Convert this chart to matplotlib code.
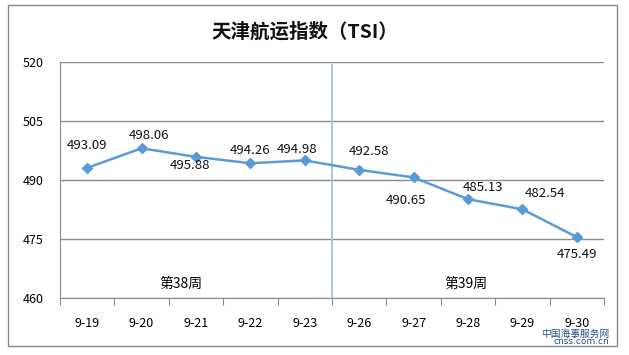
import matplotlib
matplotlib.use("Agg")
import matplotlib.pyplot as plt
from matplotlib.patches import Rectangle

plt.rcParams['font.family'] = ['Noto Sans CJK SC', 'DejaVu Sans']

categories = ["9-19", "9-20", "9-21", "9-22", "9-23", "9-26", "9-27", "9-28", "9-29", "9-30"]
values = [493.09, 498.06, 495.88, 494.26, 494.98, 492.58, 490.65, 485.13, 482.54, 475.49]
label_offsets = [(0, 22), (7, 13), (-6, -9), (0, 13), (-8, 11), (10, 18), (-8, -23), (15, 12), (23, 16), (0, -17)]
week_labels = ["第38周", "第39周"]
yticks = [460, 475, 490, 505, 520]

W, H = 629, 355
fig = plt.figure(figsize=(W / 100, H / 100), dpi=100)
fig.patch.set_facecolor("white")
fig.patches.append(Rectangle((8 / W, 1 - 346 / H), 609 / W, 341 / H, transform=fig.transFigure,
                             fill=False, edgecolor="#888888", linewidth=1.0))

ax = fig.add_axes([60 / W, 1 - 298 / H, 544 / W, 236 / H])
x = list(range(len(categories)))
ax.set_xlim(-0.5, len(categories) - 0.5)
ax.set_ylim(460, 520)
ax.set_yticks(yticks)
ax.set_yticklabels([str(v) for v in yticks], fontsize=9)
ax.yaxis.grid(True, color="#8c8c8c", linewidth=1.0)
ax.set_axisbelow(True)
for s in ["top", "right"]:
    ax.spines[s].set_visible(False)
ax.spines["left"].set_color("#8c8c8c")
ax.spines["bottom"].set_color("#8c8c8c")
ax.tick_params(axis="y", length=0, pad=12, labelsize=9)
ax.set_xticks([i + 0.5 for i in range(-1, len(categories))])
ax.set_xticklabels([])
ax.set_xticks(x, minor=True)
ax.set_xticklabels(categories, minor=True, fontsize=9)
ax.tick_params(axis="x", which="major", length=5, color="#8c8c8c", direction="out")
ax.tick_params(axis="x", which="minor", length=0, pad=14, labelsize=9)

ax.plot(x, values, color="#5b9bd5", linewidth=1.8, marker="D", markersize=5,
        markerfacecolor="#5b9bd5", markeredgecolor="#5b9bd5", zorder=3)
for xi, v, (dx, dy) in zip(x, values, label_offsets):
    ax.annotate(f"{v:.2f}", (xi, v), xytext=(dx * 0.72, dy * 0.72), textcoords="offset points",
                ha="center", va="center", fontsize=9.5, color="#111111")

ax.plot([4.5, 4.5], [519.3, 460], color="#9dc3e6", linewidth=1.3, zorder=2)
ax.text(1.72, 463.6, week_labels[0], ha="center", va="center", fontsize=10)
ax.text(6.96, 463.6, week_labels[1], ha="center", va="center", fontsize=10)

fig.text(305 / W, 1 - 32 / H, "天津航运指数（TSI）", ha="center", va="center",
         fontsize=14, fontweight="bold", color="#111111")

# watermark (shrunk so it does not cover the tick labels)
fig.text(609 / W, 1 - 334 / H, "中国海事服务网", ha="right", va="center", fontsize=7,
         color="#2a4d8f")
fig.text(609 / W, 1 - 342 / H, "cnss.com.cn", ha="right", va="center", fontsize=6.5,
         color="#2a4d8f", family=["DejaVu Sans"])

fig.savefig("out.png", dpi=100)
